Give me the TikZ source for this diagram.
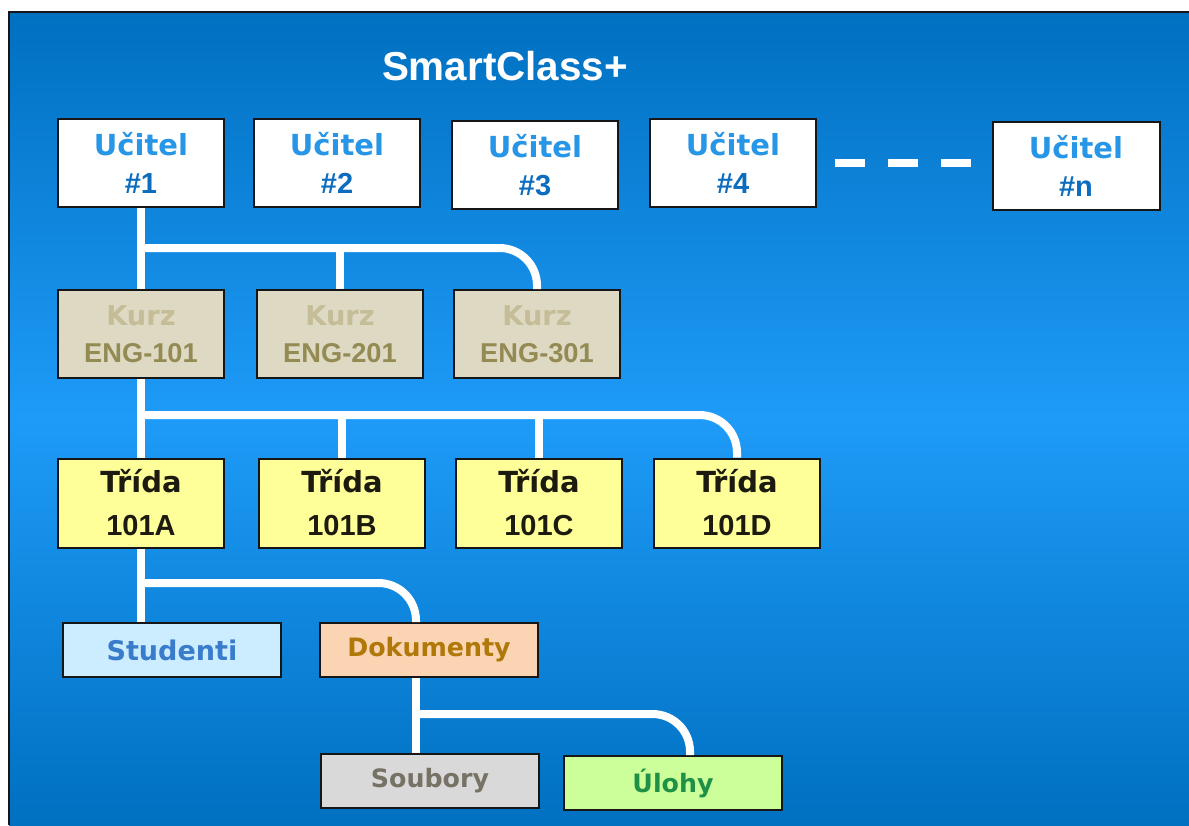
\documentclass[tikz,border=0pt]{standalone}
\usepackage{fontspec}
\setmainfont{Liberation Sans}
\newfontfamily\wordfont{DejaVu Sans}
\usetikzlibrary{positioning}

\definecolor{bgdark}{RGB}{0,112,192}
\definecolor{bglight}{RGB}{30,155,248}
\definecolor{boxline}{RGB}{22,22,22}
\definecolor{ucword}{RGB}{40,150,230}
\definecolor{ucnum}{RGB}{12,108,190}
\definecolor{kurzbg}{RGB}{221,217,195}
\definecolor{kurzword}{RGB}{196,189,151}
\definecolor{kurznum}{RGB}{148,138,84}
\definecolor{tridabg}{RGB}{255,255,153}
\definecolor{tridatext}{RGB}{29,27,16}
\definecolor{studbg}{RGB}{204,236,255}
\definecolor{studtext}{RGB}{58,124,204}
\definecolor{dokbg}{RGB}{251,212,180}
\definecolor{doktext}{RGB}{176,120,8}
\definecolor{soubg}{RGB}{217,217,217}
\definecolor{soutext}{RGB}{119,114,102}
\definecolor{ulobg}{RGB}{204,255,153}
\definecolor{ulotext}{RGB}{30,145,70}

\tikzset{
	every node/.style = {font=\bfseries},
	box/.style = {draw=boxline, line width=0.04cm, align=center},
	ucitel/.style = {box, fill=white, text=ucnum, minimum width=3.34cm, minimum height=1.78cm,
		font=\fontsize{16.5}{22}\selectfont\bfseries},
	kurz/.style = {box, fill=kurzbg, text=kurznum, minimum width=3.34cm, minimum height=1.76cm,
		font=\fontsize{15.5}{21}\selectfont\bfseries},
	trida/.style = {box, fill=tridabg, text=tridatext, minimum width=3.34cm, minimum height=1.78cm,
		font=\fontsize{16.5}{24.5}\selectfont\bfseries},
	leaf/.style = {box, minimum width=4.38cm, minimum height=1.08cm,
		font=\fontsize{14.4}{18}\selectfont\bfseries\wordfont},
	title/.style = {text=white, font=\fontsize{23}{28}\selectfont\bfseries},
	link/.style = {draw=white, line width=0.16cm},
	dashline/.style = {draw=white, line width=0.16cm, dash pattern=on 0.6cm off 0.46cm,
		shorten <=0.36cm, shorten >=0.38cm}
}

\begin{document}
\begin{tikzpicture}[x=0.02cm, y=-0.02cm]
		\useasboundingbox (0,0) rectangle (1189,825);
		% background
		\shade[top color=bgdark, bottom color=bgdark, middle color=bglight] (9,12) rectangle (1189,825);
		\draw[line width=0.05cm, boxline] (9,825) -- (9,12) -- (1189,12);
		
		\node[title] (head) at (505,66) {SmartClass+};
		
		% teachers
		\foreach \i/\x/\y in {1/141/163, 2/337/163, 3/535/165, 4/733/163}
			\node[ucitel] (u\i) at (\x,\y) {{\color{ucword}\wordfont Učitel}\\\#\i};
		\node[ucitel] (un) at (1076,166) {{\color{ucword}\wordfont Učitel}\\\#n};
		\draw[dashline] (u4.east) -- (u4.east -| un.west);
		
		% courses
		\foreach \i/\x in {1/141, 2/340, 3/537}
			\node[kurz] (k\i) at (\x,334) {{\color{kurzword}\wordfont Kurz}\\ENG-\i01};
		
		% classes
		\foreach \i/\x in {A/141, B/342, C/539, D/737}
			\node[trida] (t\i) at (\x,503) {{\wordfont Třída}\\101\i};
		
		% content of 101A
		\node[leaf, fill=studbg, text=studtext, font=\fontsize{15.4}{18}\selectfont\bfseries\wordfont] (stu) at (172,650) {Studenti};
		\node[leaf, fill=dokbg, text=doktext] (dok) at (429,650) {Dokumenty};
		\node[leaf, fill=soubg, text=soutext] (sou) at (430,781) {Soubory};
		\node[leaf, fill=ulobg, text=ulotext] (ulo) at (673,783) {Úlohy};
		
		% links
		\coordinate (br1) at (0,248);
		\coordinate (br2) at (0,415);
		\coordinate (br3) at (0,583);
		\coordinate (br4) at (0,714);
		\coordinate (dokin) at ([xshift=-0.26cm]dok.north);
		\coordinate (dokout) at ([xshift=-0.26cm]dok.south);
		\coordinate (uloin) at ([xshift=0.34cm]ulo.north);
		
		\draw[link] (u1.south) -- (u1.south |- k1.north);
		\draw[link] (k2.north) -- (k2.north |- br1);
		\draw[link, rounded corners=0.75cm] (u1.south |- br1) -| (k3.north);
		
		\draw[link] (k1.south) -- (k1.south |- tA.north);
		\foreach \i in {B, C}
			\draw[link] (t\i.north) -- (t\i.north |- br2);
		\draw[link, rounded corners=0.75cm] (k1.south |- br2) -| (tD.north);
		
		\draw[link] (tA.south) -- (tA.south |- stu.north);
		\draw[link, rounded corners=0.75cm] (tA.south |- br3) -| (dokin);
		
		\draw[link] (dokout) -- (dokout |- sou.north);
		\draw[link, rounded corners=0.75cm] (dokout |- br4) -| (uloin);
	\end{tikzpicture}
\end{document}
